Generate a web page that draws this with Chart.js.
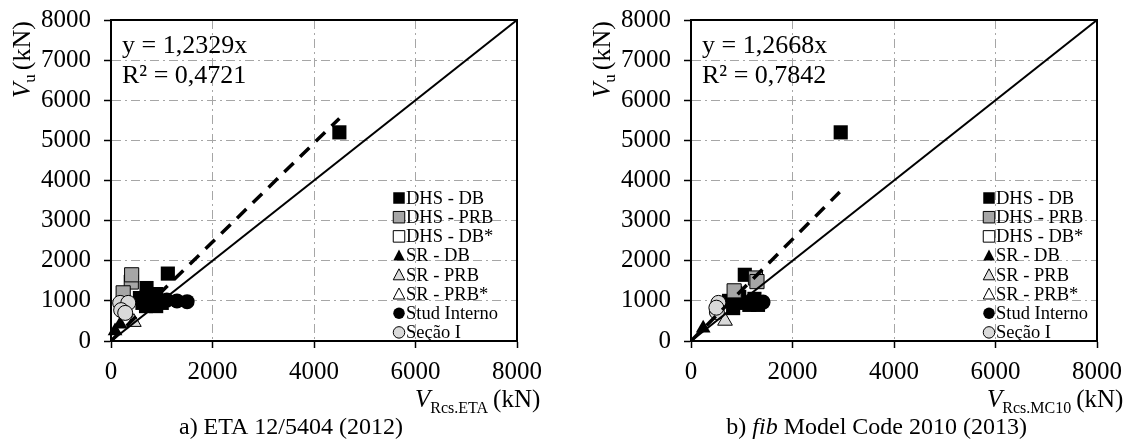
<!DOCTYPE html>
<html>
<head>
<meta charset="utf-8">
<script src="https://cdn.jsdelivr.net/npm/chart.js@4.4.0/dist/chart.umd.min.js"></script>
<style>
  html, body { margin: 0; padding: 0; background: #fff; }
  #wrap { position: relative; width: 1140px; height: 446px; overflow: hidden; }
  canvas { position: absolute; top: 0; }
  #ca { left: 0; }
  #cb { left: 580px; }
</style>
</head>
<body>
<div id="wrap">
  <canvas id="ca" width="580" height="446"></canvas>
  <canvas id="cb" width="560" height="446"></canvas>
</div>
<script>
// Axis ticks (kN)
const yTicks = [0, 1000, 2000, 3000, 4000, 5000, 6000, 7000, 8000];
const xTicks = [0, 2000, 4000, 6000, 8000];
const axisMax = 8000;

// Series names (legend order)
const seriesNames = ['DHS - DB', 'DHS - PRB', 'DHS - DB*', 'SR - DB', 'SR - PRB', 'SR - PRB*', 'Stud Interno', 'Seção I'];

// a) ETA 12/5404 (2012): [V_Rcs.ETA, V_u]
const etaDhsDb   = [[4500, 5200], [1120, 1680], [700, 1320], [890, 1170], [890, 870], [570, 1070], [690, 870], [780, 1000], [1000, 950], [620, 950]];
const etaDhsPrb  = [[400, 1470], [407, 1650], [240, 1200]];
const etaDhsDbS  = [];
const etaSrDb    = [[80, 250], [180, 420]];
const etaSrPrb   = [[450, 470]];
const etaSrPrbS  = [];
const etaStud    = [[1100, 1020], [1300, 1000], [1500, 980]];
const etaSecao   = [[180, 950], [340, 950], [200, 770], [280, 700]];
const etaSlope   = 1.2329;
const etaR2      = '0,4721';
const etaTrendX  = [0, 4500];

// b) fib Model Code 2010 (2013): [V_Rcs.MC10, V_u]
const mcDhsDb    = [[2950, 5200], [1060, 1650], [870, 1200], [830, 820], [1000, 950], [1150, 900], [950, 1100], [1250, 1050], [750, 1000], [1320, 900]];
const mcDhsPrb   = [[1270, 1570], [1300, 1480], [850, 1250]];
const mcDhsDbS   = [];
const mcSrDb     = [[240, 320]];
const mcSrPrb    = [[670, 500]];
const mcSrPrbS   = [];
const mcStud     = [[1200, 1020], [1420, 970]];
const mcSecao    = [[540, 950], [510, 720], [500, 830]];
const mcSlope    = 1.2668;
const mcR2       = '0,7842';
const mcTrendX   = [0, 2930];

// Marker appearance per series
const shapes  = ['rect', 'rect', 'rect', 'triangle', 'triangle', 'triangle', 'circle', 'circle'];
const fills   = ['#000000', '#a6a6a6', '#ffffff', '#000000', '#d9d9d9', '#ffffff', '#000000', '#d9d9d9'];
const radii   = { rect: 10, triangle: 8.5, circle: 7.5 };

const FONT = '"Liberation Serif", "Times New Roman", serif';

function pts(a) { return a.map(p => ({ x: p[0], y: p[1] })); }

function buildDatasets(series, slope, trendX) {
  const ds = [];
  // reference line y = x and dashed trend line y = slope*x, on top of markers
  ds.push({
    label: 'y = x', data: [{ x: 0, y: 0 }, { x: axisMax, y: axisMax }],
    showLine: true, borderColor: '#000', borderWidth: 2, pointRadius: 0, order: 0
  });
  ds.push({
    label: 'trend', data: trendX.map(x => ({ x: x, y: slope * x })),
    showLine: true, borderColor: '#000', borderWidth: 3.5, borderDash: [13, 9],
    pointRadius: 0, order: 0
  });
  series.forEach((arr, i) => {
    ds.push({
      label: seriesNames[i], data: pts(arr),
      pointStyle: shapes[i], pointRadius: radii[shapes[i]], pointHoverRadius: radii[shapes[i]],
      backgroundColor: fills[i], borderColor: '#000', borderWidth: fills[i] === '#000000' ? 0 : 1,
      clip: false, order: 20 - i
    });
  });
  return ds;
}

function drawMarker(ctx, shape, fill, x, y, s) {
  ctx.save();
  ctx.fillStyle = fill;
  ctx.strokeStyle = '#000';
  ctx.lineWidth = 1;
  ctx.beginPath();
  if (shape === 'rect') {
    ctx.rect(x - s / 2, y - s / 2, s, s);
  } else if (shape === 'triangle') {
    const h = s * 0.87;
    ctx.moveTo(x, y - h / 2 - 1);
    ctx.lineTo(x + s / 2, y + h / 2);
    ctx.lineTo(x - s / 2, y + h / 2);
    ctx.closePath();
  } else {
    ctx.arc(x, y, s / 2, 0, Math.PI * 2);
  }
  ctx.fill();
  if (fill !== '#000000') ctx.stroke();
  ctx.restore();
}

function decorations(opt) {
  return {
    id: 'decor',
    afterDraw(chart) {
      const ctx = chart.ctx;
      const a = chart.chartArea;
      ctx.save();
      // plot frame
      ctx.strokeStyle = '#000';
      ctx.lineWidth = 2;
      ctx.strokeRect(a.left, a.top, a.right - a.left, a.bottom - a.top);

      ctx.fillStyle = '#000';
      ctx.textBaseline = 'alphabetic';
      ctx.textAlign = 'left';
      // regression equation
      ctx.font = '26px ' + FONT;
      ctx.fillText('y = ' + opt.slope.toFixed(4).replace('.', ',') + 'x', a.left + 11, 53);
      ctx.fillText('R² = ' + opt.r2, a.left + 11, 83);

      // legend
      ctx.font = '18.5px ' + FONT;
      ctx.textBaseline = 'middle';
      seriesNames.forEach((name, i) => {
        const yy = 198 + i * 19.2;
        drawMarker(ctx, shapes[i], fills[i], opt.legendX, yy, 11.5);
        ctx.fillStyle = '#000';
        ctx.fillText(name, opt.legendX + 7, yy + 1);
      });

      // y-axis title: V_u (kN), rotated
      ctx.save();
      ctx.translate(opt.yTitleX, 98);
      ctx.rotate(-Math.PI / 2);
      ctx.textBaseline = 'alphabetic';
      ctx.font = 'italic 25px ' + FONT;
      ctx.fillText('V', 0, 0);
      let w = ctx.measureText('V').width;
      ctx.font = '17px ' + FONT;
      ctx.fillText('u', w, 5);
      w += ctx.measureText('u').width + 4;
      ctx.font = '26px ' + FONT;
      ctx.fillText('(kN)', w, 0);
      ctx.restore();

      // x-axis title: V_Rcs.xxx (kN)
      ctx.textBaseline = 'alphabetic';
      let x = opt.xTitleX;
      ctx.font = 'italic 25px ' + FONT;
      ctx.fillText('V', x, 407);
      x += ctx.measureText('V').width;
      ctx.font = '16px ' + FONT;
      ctx.fillText(opt.xSub, x, 413);
      x += ctx.measureText(opt.xSub).width + 5;
      ctx.font = '25px ' + FONT;
      ctx.fillText('(kN)', x, 407);

      // caption
      const parts = opt.caption;
      let total = 0;
      parts.forEach(p => { ctx.font = (p[1] ? 'italic ' : '') + '24px ' + FONT; total += ctx.measureText(p[0]).width; });
      let cx = opt.captionRight - total;
      parts.forEach(p => {
        ctx.font = (p[1] ? 'italic ' : '') + '24px ' + FONT;
        ctx.fillText(p[0], cx, 434);
        cx += ctx.measureText(p[0]).width;
      });
      ctx.restore();
    }
  };
}

function makeChart(id, series, slope, trendX, padRight, opt) {
  const gridColor = (c) => (c.tick && (c.tick.value === 0 || c.tick.value === axisMax)) ? 'rgba(0,0,0,0)' : '#a6a6a6';
  const tickFont = { family: FONT, size: 25 };
  return new Chart(document.getElementById(id), {
    type: 'scatter',
    data: { datasets: buildDatasets(series, slope, trendX) },
    options: {
      responsive: false,
      animation: false,
      devicePixelRatio: 1,
      layout: { padding: { left: 0, right: padRight, top: 20, bottom: 0 } },
      plugins: { legend: { display: false }, tooltip: { enabled: false } },
      events: [],
      scales: {
        x: {
          type: 'linear', min: 0, max: axisMax,
          afterBuildTicks: (s) => { s.ticks = xTicks.map(v => ({ value: v })); },
          afterFit: (s) => { s.height = 446 - 341; s.paddingLeft = 0; s.paddingRight = 0; },
          grid: { color: gridColor, lineWidth: 1, tickColor: '#000', tickLength: 7, tickWidth: 1.5 },
          border: { display: true, color: '#000', width: 2, dash: [9, 4, 2, 4] },
          ticks: { color: '#000', font: tickFont, padding: 9, maxRotation: 0, callback: (v) => String(v) }
        },
        y: {
          type: 'linear', min: 0, max: axisMax,
          afterBuildTicks: (s) => { s.ticks = yTicks.map(v => ({ value: v })); },
          afterFit: (s) => { s.width = 111; s.paddingTop = 0; s.paddingBottom = 0; },
          grid: { color: gridColor, lineWidth: 1, tickColor: '#000', tickLength: 7, tickWidth: 1.5 },
          border: { display: true, color: '#000', width: 2, dash: [9, 4, 2, 4] },
          ticks: { color: '#000', font: tickFont, padding: 13, callback: (v) => String(v) }
        }
      }
    },
    plugins: [decorations(opt)]
  });
}

makeChart('ca',
  [etaDhsDb, etaDhsPrb, etaDhsDbS, etaSrDb, etaSrPrb, etaSrPrbS, etaStud, etaSecao],
  etaSlope, etaTrendX, 580 - 517,
  { slope: etaSlope, r2: etaR2, legendX: 399, yTitleX: 30, xTitleX: 415, xSub: 'Rcs.ETA',
    caption: [['a) ETA 12/5404 (2012)', false]], captionRight: 403 });

makeChart('cb',
  [mcDhsDb, mcDhsPrb, mcDhsDbS, mcSrDb, mcSrPrb, mcSrPrbS, mcStud, mcSecao],
  mcSlope, mcTrendX, 560 - 517,
  { slope: mcSlope, r2: mcR2, legendX: 409, yTitleX: 30, xTitleX: 407, xSub: 'Rcs.MC10',
    caption: [['b) ', false], ['fib', true], [' Model Code 2010 (2013)', false]], captionRight: 447 });
</script>
</body>
</html>
